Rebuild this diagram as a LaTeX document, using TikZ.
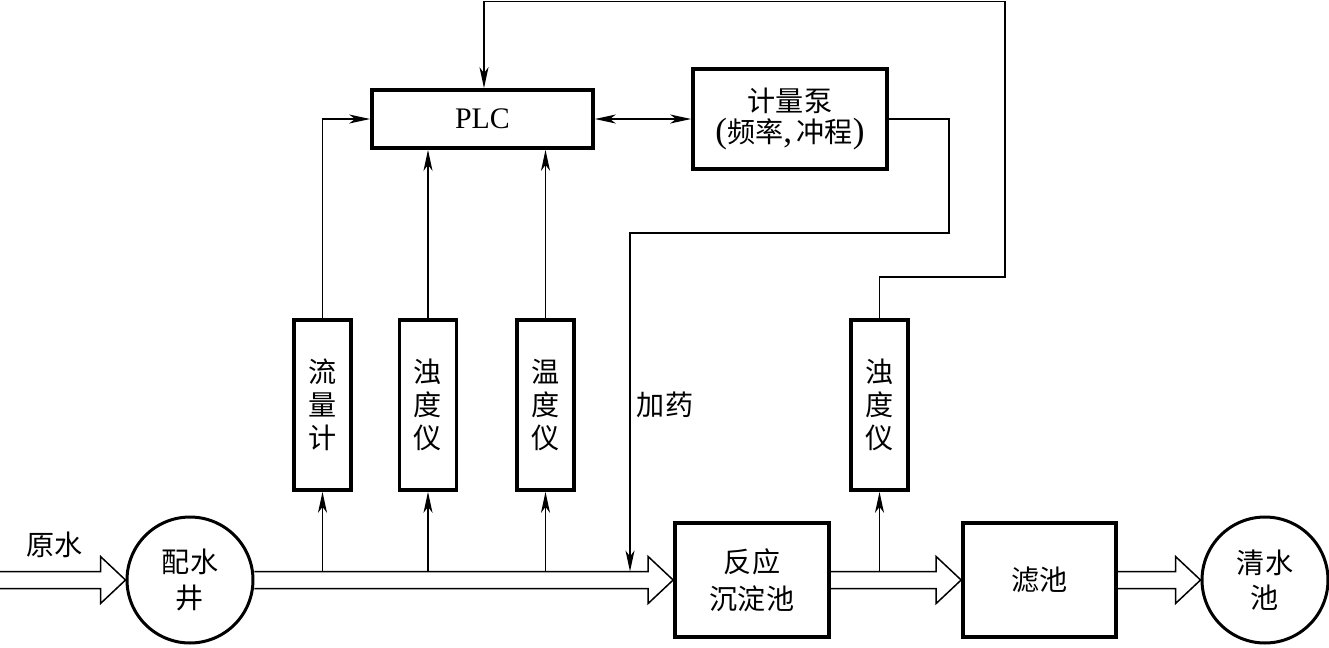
\documentclass[tikz,border=0pt]{standalone}
\usepackage{fontspec}
\setmainfont{Liberation Serif}
\newfontfamily\cjk{Noto Sans CJK SC}
\usetikzlibrary{arrows.meta,calc}

\tikzset{process box/.style={draw,line width=0.075cm,font=\cjk\fontsize{16}{21}\selectfont,align=center,inner sep=0pt},
instrument/.style={draw,line width=0.075cm,font=\cjk\fontsize{16}{18.8}\selectfont,align=center,inner sep=0pt,minimum width=1.14cm,minimum height=3.4cm},
tank/.style={draw,circle,line width=0.06cm,font=\cjk\fontsize{16}{20}\selectfont,align=center,inner sep=0pt,minimum size=2.52cm},
signal/.style={line width=0.03cm,-{Stealth[length=4.2mm,width=1.8mm,inset=1.2mm]}},
signal both/.style={line width=0.03cm,{Stealth[length=4.2mm,width=1.8mm,inset=1.2mm]}-{Stealth[length=4.2mm,width=1.8mm,inset=1.2mm]}},
water/.style={line width=0.03cm,line join=miter},
label text/.style={font=\cjk\fontsize{16}{18}\selectfont,inner sep=0pt}}

%% hollow water arrow between two points on the same height
\newcommand{\waterarrow}[2]{\draw[water] let \p1=(#1), \p2=(#2) in
  (\x1,\y1+0.17cm) -- (\x2-0.5cm,\y1+0.17cm) -- (\x2-0.5cm,\y1+0.47cm) -- (\x2,\y1)
  -- (\x2-0.5cm,\y1-0.47cm) -- (\x2-0.5cm,\y1-0.17cm) -- (\x1,\y1-0.17cm);}
%% larger serif punctuation for the pump label
\newcommand{\bigpunct}[1]{{\rmfamily\fontsize{20}{17.6}\selectfont #1}}

\begin{document}
\begin{tikzpicture}[x=0.02cm,y=-0.02cm]
\useasboundingbox (0,0) rectangle (1329,647);

%% water line
\node [tank] (well) at (190,580) {配水\\井};
\node [process box,minimum width=3.08cm,minimum height=2.28cm] (react) at (752,580) {反应\\沉淀池};
\node [process box,minimum width=3.06cm,minimum height=2.28cm] (filter) at (1039.5,580) {滤池};
\node [tank] (clear) at (1265,580) {清水\\池};
\coordinate (inlet) at (0,580);
\coordinate (shaft) at (0,571.5);

\waterarrow{inlet}{well.west}
\waterarrow{well.east}{react.west}
\waterarrow{react.east}{filter.west}
\waterarrow{filter.east}{clear.west}

\node [label text] (raw) at (55,545) {原水};

%% instruments
\node [instrument] (flow) at (322.5,405) {流\\量\\计};
\node [instrument] (turb1) at (428,405) {浊\\度\\仪};
\node [instrument] (temp) at (545.5,405) {温\\度\\仪};
\node [instrument] (turb2) at (879.5,405) {浊\\度\\仪};

%% control
\node [draw,line width=0.075cm,minimum width=4.42cm,minimum height=1.16cm,font=\fontsize{17}{20}\selectfont] (plc) at (482.5,119) {PLC};
\node [process box,font=\cjk\fontsize{16}{17.6}\selectfont,minimum width=3.88cm,minimum height=2cm] (pump) at (790,119)
  {计量泵\\\bigpunct{(}频率\bigpunct{,}\,冲程\bigpunct{)}};

%% sensor taps
\draw [signal] (flow.south |- shaft) -- (flow.south);
\draw [signal] (turb1.south |- shaft) -- (turb1.south);
\draw [signal] (temp.south |- shaft) -- (temp.south);
\draw [signal] (turb2.south |- shaft) -- (turb2.south);

%% signals to PLC
\draw [signal] (flow.north) |- (plc.west);
\draw [signal] (turb1.north) -- (turb1.north |- plc.south);
\draw [signal] (temp.north) -- (temp.north |- plc.south);
\draw [signal both] (plc.east) -- (pump.west);

%% dosing line
\coordinate (d1) at (949,233);
\coordinate (dose) at (630,571.5);
\draw [signal] (pump.east) -| (d1) -| (dose);
\node [label text] (dosing) at (665,405) {加药};

%% feedback
\coordinate (f1) at (1005,277);
\coordinate (f2) at (484,1.5);
\draw [signal] (turb2.north) |- (f1) |- (f2) -- (f2 |- plc.north);

\end{tikzpicture}
\end{document}
